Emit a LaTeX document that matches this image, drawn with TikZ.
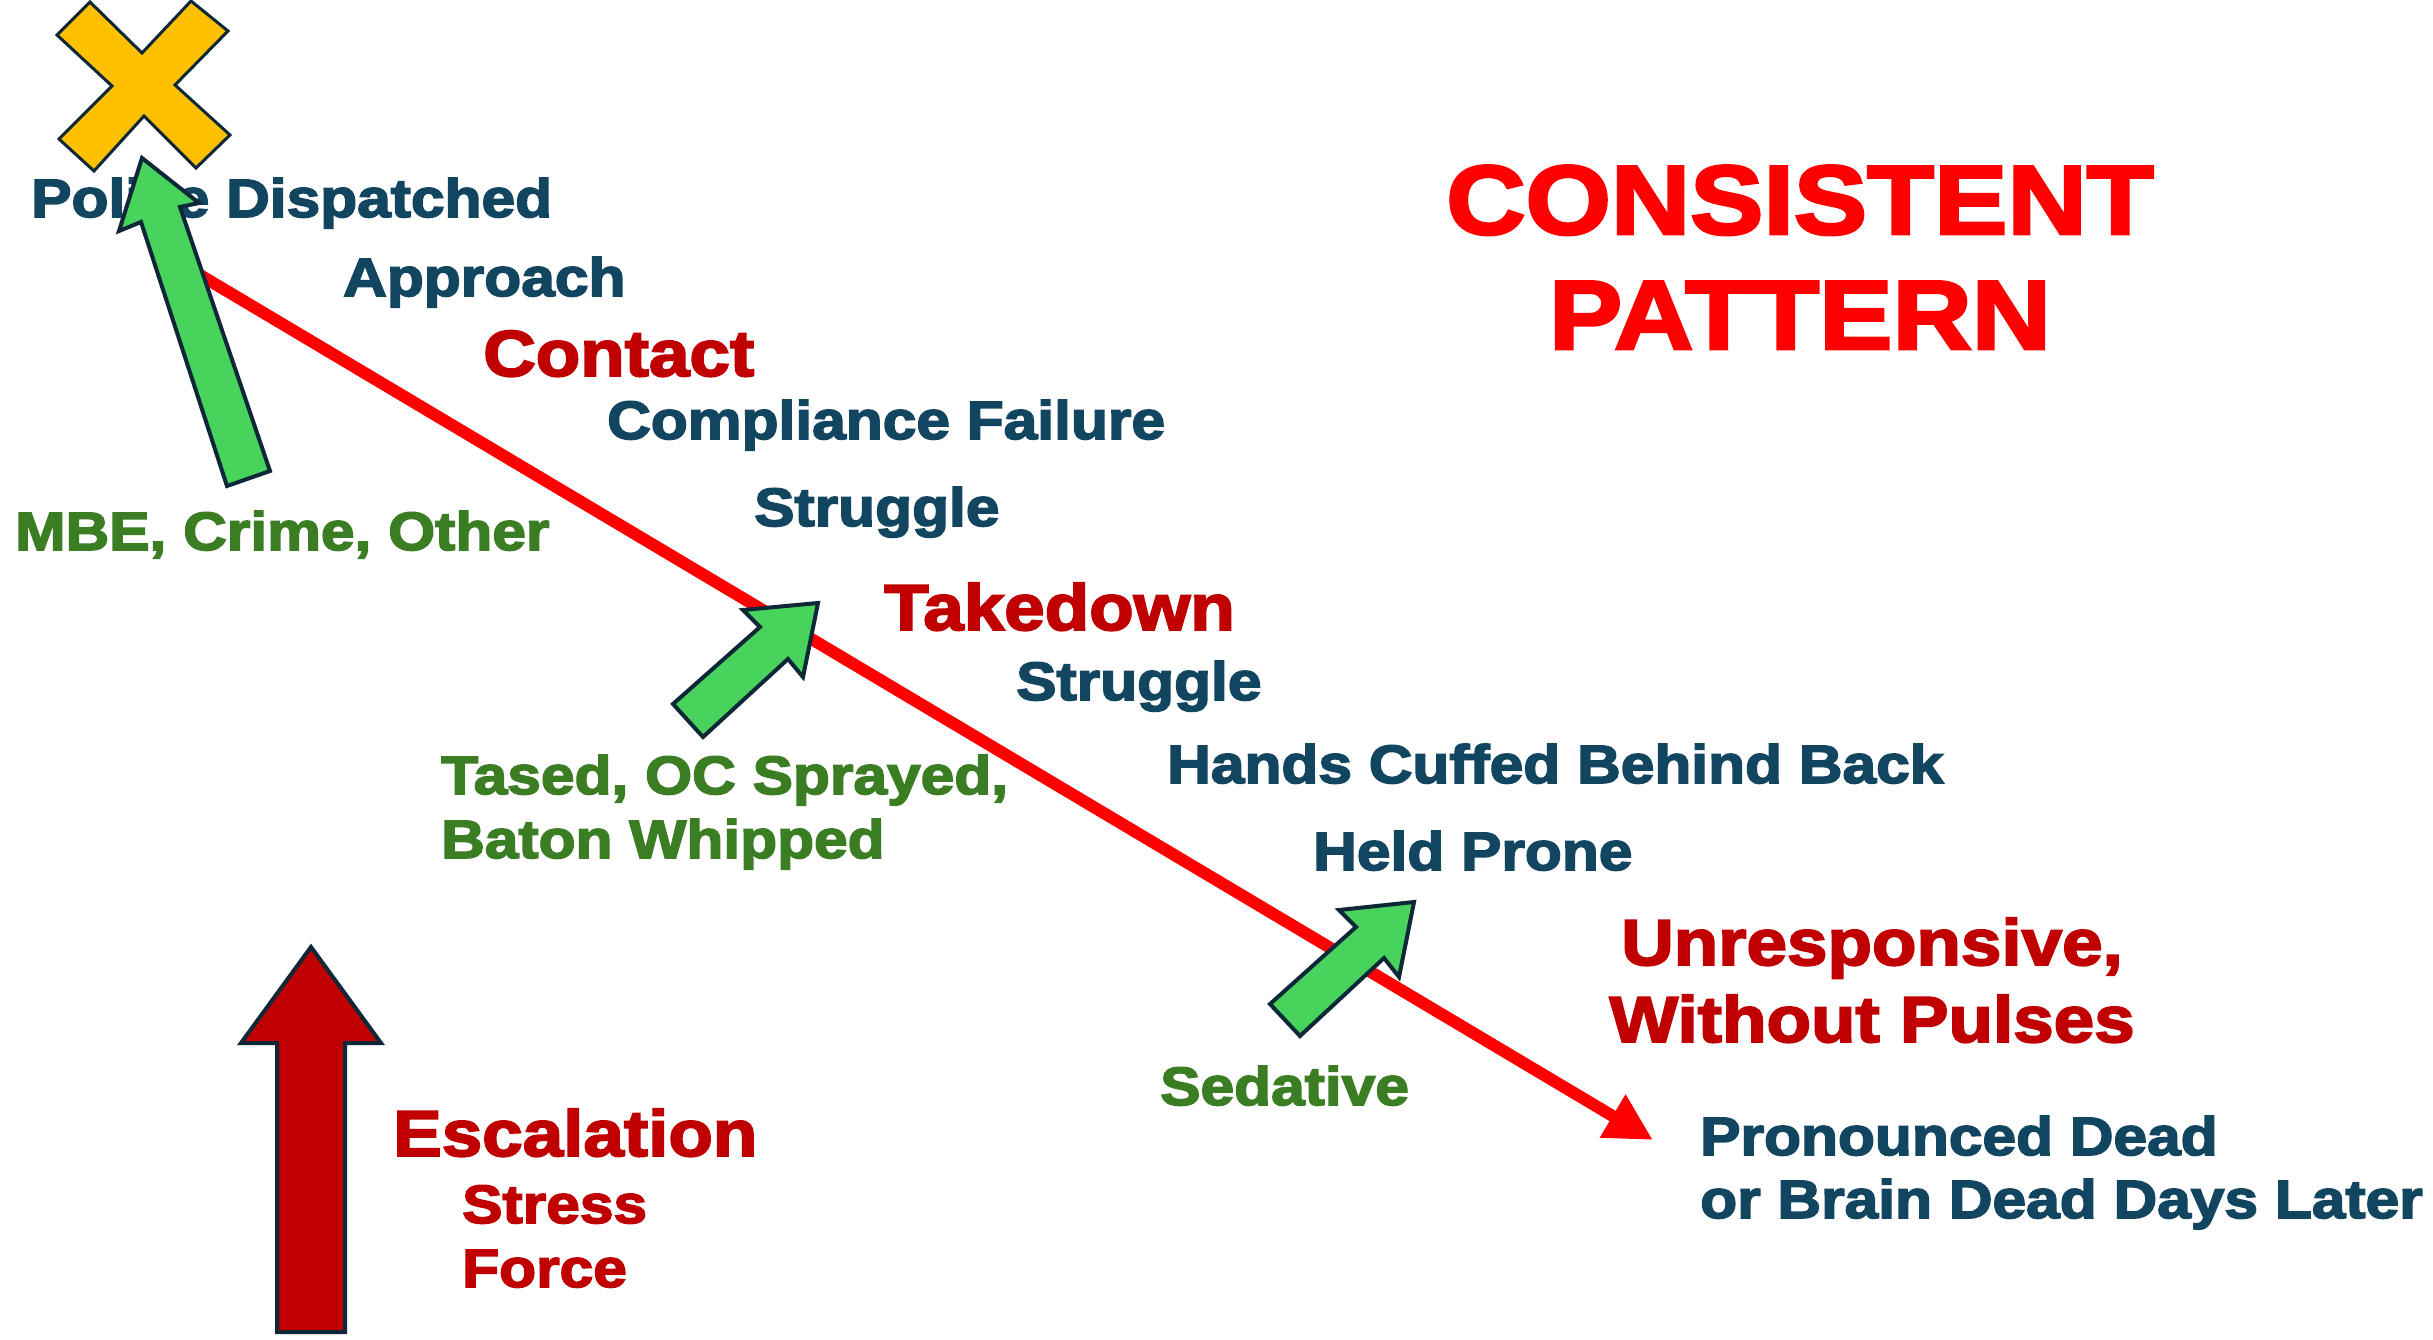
\documentclass[tikz,border=0pt]{standalone}
\usepackage{fontspec}
\setmainfont{Liberation Sans}[FakeStretch=1.12, BoldFeatures={FakeBold=3}]
\usetikzlibrary{arrows.meta}
\definecolor{StageNavy}{HTML}{124660}
\definecolor{PhaseRed}{HTML}{C00000}
\definecolor{TitleRed}{HTML}{FF0000}
\definecolor{CauseGreen}{HTML}{3B7D23}
\definecolor{ArrowGreen}{HTML}{48D35D}
\definecolor{MarkGold}{HTML}{FFC000}
\definecolor{EdgeInk}{HTML}{0E2838}
\tikzset{
  % Stage label (navy)
  stage/.style={anchor=base west, inner sep=0pt, text=StageNavy, align=left,
    font=\fontsize{54}{63}\selectfont\bfseries},
  % Key phase label (dark red, larger)
  phase/.style={anchor=base west, inner sep=0pt, text=PhaseRed, align=center,
    font=\fontsize{65}{77}\selectfont\bfseries},
  % Contributing factor label (green)
  cause/.style={anchor=base west, inner sep=0pt, text=CauseGreen, align=left,
    font=\fontsize{54}{64}\selectfont\bfseries},
  % Outlined block shape
  blk/.style={draw=EdgeInk, line width=4pt, line join=miter, fill=#1},
  % Progression arrow
  trend/.style={-{Triangle[length=47pt,width=47pt]}, line width=12pt, color=TitleRed}
}
\begin{document}
\begin{tikzpicture}[x=1pt, y=-1pt]
  \path[use as bounding box, fill=white] (0,0) rectangle (2433,1340);

  % start mark
  \draw[blk=MarkGold, line width=3pt] (57,35) -- (90,2) -- (142,53) -- (191,1) -- (228,31) -- (175,85)
    -- (230,135) -- (196,168) -- (144,116) -- (94,171) -- (59,139) -- (112,86) -- cycle;

  % sequence of stages (multi-line nodes sit on their last baseline)
  \node[stage] (dispatch) at (31,217)   {Police Dispatched};
  \node[stage] (approach) at (343,296)  {Approach};
  \node[phase] (contact)  at (483,376)  {Contact};
  \node[stage] (comply)   at (607,439)  {Compliance Failure};
  \node[stage] (struggA)  at (754,526)  {Struggle};
  \node[phase] (takedown) at (884,630)  {Takedown};
  \node[stage] (struggB)  at (1016,700) {Struggle};
  \node[stage] (cuffed)   at (1167,783) {Hands Cuffed Behind Back};
  \node[stage] (prone)    at (1313,870) {Held Prone};
  \node[phase, anchor=base] (unresp) at (1872,1042) {Unresponsive,\\Without Pulses};
  \node[stage] (dead)     at (1700,1218) {Pronounced Dead\\or Brain Dead Days Later};

  % title
  \node[phase, anchor=base, text=TitleRed, font=\fontsize{98}{115}\selectfont\bfseries]
    (title) at (1800,349) {CONSISTENT\\PATTERN};

  % contributing factors
  \node[cause] (mbe)      at (15,550)   {MBE, Crime, Other};
  \node[cause] (tased)    at (441,858)  {Tased, OC Sprayed,\\Baton Whipped};
  \node[cause] (sedative) at (1160,1105) {Sedative};

  % escalation legend
  \node[phase] (escal)  at (393,1156) {Escalation};
  \node[stage, text=PhaseRed] (stress) at (462,1223) {Stress};
  \node[stage, text=PhaseRed] (force)  at (462,1287) {Force};

  % progression line
  \coordinate (lineStart) at (195,272);
  \coordinate (lineEnd)   at (1653,1140);
  \draw[trend] (lineStart) -- (lineEnd);

  % green push arrows
  \draw[blk=ArrowGreen] (142,158) -- (199,203) -- (180,207) -- (270,471) -- (227,486) -- (141,222) -- (119,231) -- cycle;
  \draw[blk=ArrowGreen] (818,603) -- (803,677) -- (788,659) -- (703,737) -- (673,704) -- (760,627) -- (743,610) -- cycle;
  \draw[blk=ArrowGreen] (1414,902) -- (1399,977) -- (1384,958) -- (1300,1036) -- (1270,1004) -- (1356,927) -- (1339,910) -- cycle;

  % escalation arrow
  \draw[blk=PhaseRed] (311,947) -- (381,1043) -- (345,1043) -- (345,1332) -- (277,1332) -- (277,1043) -- (241,1043) -- cycle;
\end{tikzpicture}
\end{document}
